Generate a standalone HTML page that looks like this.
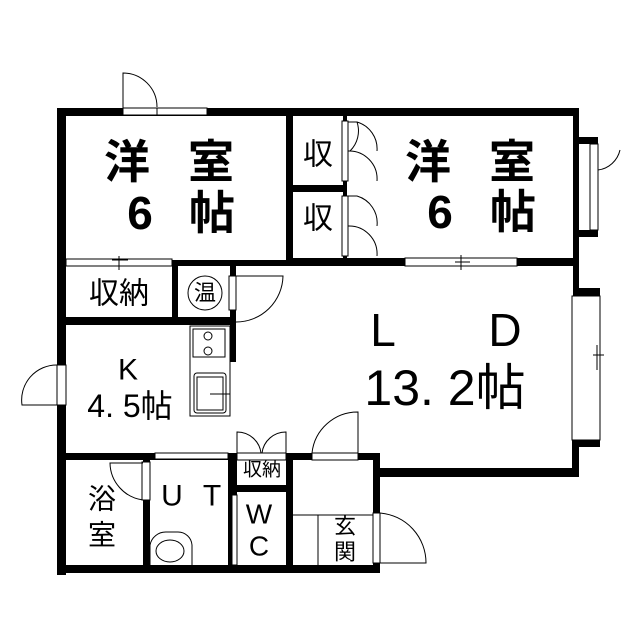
<!DOCTYPE html>
<html><head><meta charset="utf-8"><style>
html,body{margin:0;padding:0;background:#fff;}
svg{display:block;}
text{font-family:"Liberation Sans","Noto Sans CJK JP",sans-serif;fill:#000;text-anchor:middle;dominant-baseline:central;}
.b{font-weight:bold;}
</style></head><body>
<svg width="640" height="640" viewBox="0 0 640 640" xmlns="http://www.w3.org/2000/svg">
<rect width="640" height="640" fill="#fff"/>
<g fill="#000">
<rect x="57" y="108" width="522" height="8"/>
<rect x="57" y="108" width="9" height="467"/>
<rect x="573" y="108" width="6" height="187"/>
<rect x="573" y="137" width="25" height="7"/>
<rect x="573" y="230" width="25" height="7"/>
<rect x="573" y="288" width="27" height="8"/>
<rect x="572" y="440" width="28" height="7"/>
<rect x="572" y="440" width="7" height="37"/>
<rect x="373" y="468" width="206" height="9"/>
<rect x="286" y="258" width="293" height="8"/>
<rect x="66" y="260" width="227" height="6"/>
<rect x="286" y="108" width="7" height="158"/>
<rect x="293" y="185" width="52" height="7"/>
<rect x="343" y="108" width="4" height="13"/>
<rect x="343" y="180" width="4" height="16"/>
<rect x="343" y="256" width="4" height="8"/>
<rect x="172" y="266" width="6" height="58"/>
<rect x="230" y="266" width="6" height="10"/>
<rect x="230" y="310" width="6" height="52"/>
<rect x="57" y="317" width="179" height="8"/>
<rect x="57" y="453" width="323" height="7"/>
<rect x="57" y="565" width="323" height="8"/>
<rect x="143" y="453" width="7" height="38"/>
<rect x="143" y="500" width="7" height="73"/>
<rect x="228" y="453" width="9" height="120"/>
<rect x="228" y="485" width="65" height="7"/>
<rect x="286" y="453" width="7" height="120"/>
<rect x="373" y="453" width="7" height="60"/>
<rect x="373" y="563" width="7" height="10"/>
</g>
<g fill="#fff" stroke="#000" stroke-width="1">
<rect x="123" y="108" width="34" height="7"/>
<rect x="157" y="108" width="50" height="7"/>
<rect x="66" y="259" width="106" height="7"/>
<rect x="405" y="258" width="112" height="8"/>
<rect x="342" y="121" width="6" height="60"/>
<rect x="342" y="196" width="6" height="60"/>
<rect x="590" y="144" width="8" height="86"/>
<rect x="572" y="296" width="28" height="144"/>
<rect x="229" y="276" width="7" height="34"/>
<rect x="57" y="365" width="9" height="40"/>
<rect x="155" y="453" width="73" height="6"/>
<rect x="142" y="462" width="8" height="38"/>
<rect x="237" y="453" width="49" height="7"/>
<rect x="312" y="453" width="46" height="7"/>
<rect x="373" y="513" width="7" height="50"/>
<rect x="232" y="495" width="5" height="70"/>
</g>
<g fill="none" stroke="#000" stroke-width="1">
<path d="M123 108 V73 A34 34 0 0 1 157 107"/>
<path d="M348 122 H357 A28 28 0 0 1 377 151 M348 151 H350 A28 28 0 0 0 357 122 M348 151 A28 28 0 0 1 377 181"/>
<path d="M348 196 H357 A28 28 0 0 1 377 226 M348 226 A28 28 0 0 1 377 256"/>
<path d="M598 144 V170 A26 26 0 0 0 620 150"/>
<path d="M236 276 H283 A47 47 0 0 1 236 322"/>
<path d="M57 405 H22 A35 35 0 0 1 57 365"/>
<path d="M143 463 H110 A38 38 0 0 0 143 500"/>
<path d="M237 453 V432 A24 24 0 0 1 261 453 M286 453 V432 A24 24 0 0 0 262 453"/>
<path d="M358 453 V412 A46 46 0 0 0 312 453"/>
<path d="M380 513 A50 50 0 0 1 426 563 H380"/>
<path d="M293 515 H373 M318 515 V565"/>
<path d="M119 256 V270 M112 260 H128 M461 255 V270 M455 262 H470 M593 355 H604 M597 345 V370"/>
<circle cx="205" cy="293" r="17"/>
<rect x="190" y="326" width="40" height="90"/>
<rect x="193" y="329" width="32" height="28"/>
<circle cx="208" cy="336" r="4"/><circle cx="208" cy="351" r="4"/>
<rect x="194" y="373" width="32" height="40" rx="3"/>
<rect x="197" y="377" width="26" height="33"/>
<path d="M210 394 H230"/>
<path d="M150 565 V545 A16 16 0 0 1 166 532 H178 A14 14 0 0 1 192 545 V565"/>
<ellipse cx="170" cy="551" rx="14" ry="11"/>
</g>
<text class="b" x="127" y="162" font-size="46">洋</text>
<text class="b" x="211" y="162" font-size="46">室</text>
<text class="b" x="140" y="213" font-size="46">6</text>
<text class="b" x="212" y="213" font-size="46">帖</text>
<text class="b" x="428" y="162" font-size="46">洋</text>
<text class="b" x="512" y="162" font-size="46">室</text>
<text class="b" x="440" y="212" font-size="46">6</text>
<text class="b" x="513" y="212" font-size="46">帖</text>
<text x="318" y="155" font-size="30">収</text>
<text x="318" y="219" font-size="30">収</text>
<text x="119" y="294" font-size="30">収納</text>
<text x="205" y="293" font-size="22">温</text>
<text x="128" y="370" font-size="30">K</text>
<text x="130" y="406" font-size="32">4. 5帖</text>
<text x="383" y="330" font-size="46">L</text>
<text x="505" y="330" font-size="46">D</text>
<text x="445" y="388" font-size="50">13. 2帖</text>
<text x="102" y="499" font-size="28">浴</text>
<text x="102" y="535" font-size="28">室</text>
<text x="172" y="496" font-size="30">U</text>
<text x="212" y="496" font-size="30">T</text>
<text x="262" y="470" font-size="19">収納</text>
<text x="259" y="514" font-size="28">W</text>
<text x="259" y="546" font-size="28">C</text>
<text x="345" y="526" font-size="22">玄</text>
<text x="345" y="552" font-size="22">関</text>
</svg>
</body></html>
